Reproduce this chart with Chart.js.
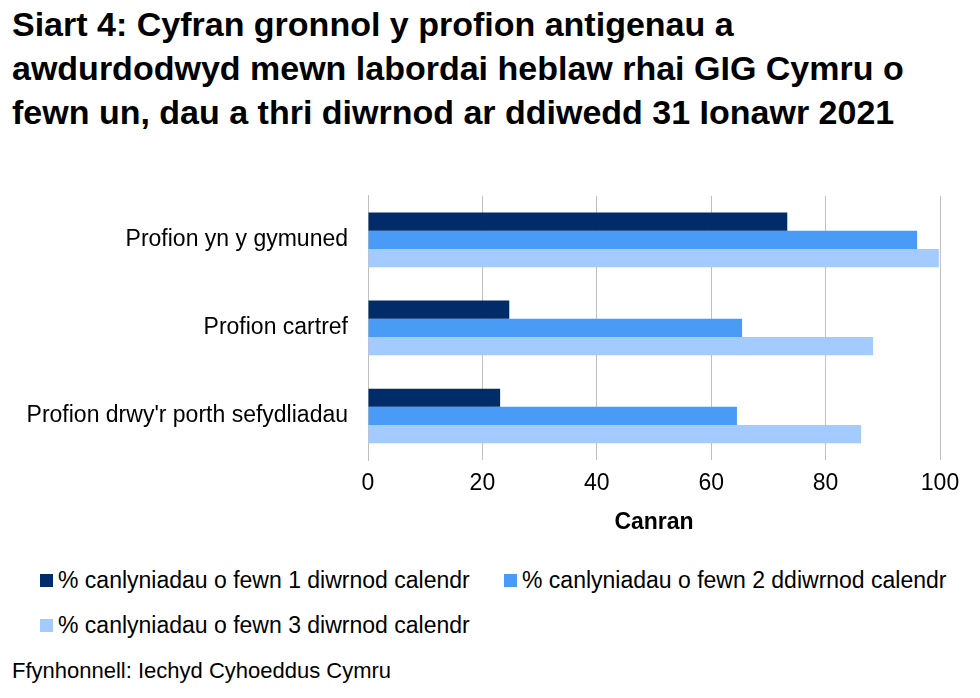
<!DOCTYPE html>
<html>
<head>
<meta charset="utf-8">
<script src="https://cdn.jsdelivr.net/npm/chart.js@4/dist/chart.umd.min.js"></script>
<style>
  body { margin: 0; width: 980px; height: 698px; background: #fff; font-family: "Liberation Sans", Arial, sans-serif; position: relative; overflow: hidden; }
  h1 { position: absolute; left: 12px; top: 2px; margin: 0; font-size: 34px; line-height: 44px; font-weight: bold; color: #000; white-space: nowrap; }
  #wrap { position: absolute; left: 0; top: 170px; width: 980px; height: 370px; }
  .leg { position: absolute; font-size: 23px; color: #000; display: flex; align-items: center; }
  .leg span { display: inline-block; width: 13px; height: 13px; margin-right: 5px; }
  #src { position: absolute; left: 12px; top: 658px; font-size: 22px; }
</style>
</head>
<body>
<h1>Siart 4: Cyfran gronnol y profion antigenau a<br>awdurdodwyd mewn labordai heblaw rhai GIG Cymru o<br>fewn un, dau a thri diwrnod ar ddiwedd 31 Ionawr 2021</h1>
<div id="wrap"><canvas id="chart"></canvas></div>
<div class="leg" style="left:40px;top:567px"><span style="background:#002D6A"></span>% canlyniadau o fewn 1 diwrnod calendr</div>
<div class="leg" style="left:504px;top:567px"><span style="background:#4A9BF5"></span>% canlyniadau o fewn 2 ddiwrnod calendr</div>
<div class="leg" style="left:40px;top:612px"><span style="background:#A3CBFF"></span>% canlyniadau o fewn 3 diwrnod calendr</div>
<div id="src">Ffynhonnell: Iechyd Cyhoeddus Cymru</div>
<script>
const categories = ["Profion yn y gymuned", "Profion cartref", "Profion drwy'r porth sefydliadau"];
const seriesNames = ["% canlyniadau o fewn 1 diwrnod calendr", "% canlyniadau o fewn 2 ddiwrnod calendr", "% canlyniadau o fewn 3 diwrnod calendr"];
const day1 = [73.3, 24.7, 23.1];
const day2 = [96.0, 65.4, 64.5];
const day3 = [99.8, 88.3, 86.2];
const xTicks = [0, 20, 40, 60, 80, 100];
const colors = ["#002D6A", "#4A9BF5", "#A3CBFF"];

const ctx = document.getElementById('chart');
new Chart(ctx, {
  type: 'bar',
  data: {
    labels: categories,
    datasets: [day1, day2, day3].map((d, i) => ({
      label: seriesNames[i],
      data: d,
      backgroundColor: colors[i],
      categoryPercentage: 0.62,
      barPercentage: 1.0
    }))
  },
  options: {
    indexAxis: 'y',
    responsive: true,
    maintainAspectRatio: false,
    animation: false,
    layout: { padding: { top: 4, right: 40, left: 0, bottom: 0 } },
    plugins: { legend: { display: false }, tooltip: { enabled: false } },
    scales: {
      x: {
        min: 0, max: 100,
        afterBuildTicks: s => { s.ticks = xTicks.map(v => ({ value: v })); },
        afterFit: s => { s.height = 80; },
        grid: { color: '#c0c0c0', drawTicks: false },
        border: { display: false },
        ticks: { color: '#000', font: { family: 'Liberation Sans', size: 23 }, padding: 10 },
        title: { display: true, text: 'Canran', color: '#000', font: { family: 'Liberation Sans', size: 23, weight: 'bold' }, padding: { top: 8, bottom: 4 } }
      },
      y: {
        afterFit: s => { s.width = 368; },
        grid: { display: false },
        border: { display: true, color: '#c0c0c0' },
        ticks: { color: '#000', font: { family: 'Liberation Sans', size: 23 }, padding: 12 }
      }
    }
  }
});
</script>
</body>
</html>
